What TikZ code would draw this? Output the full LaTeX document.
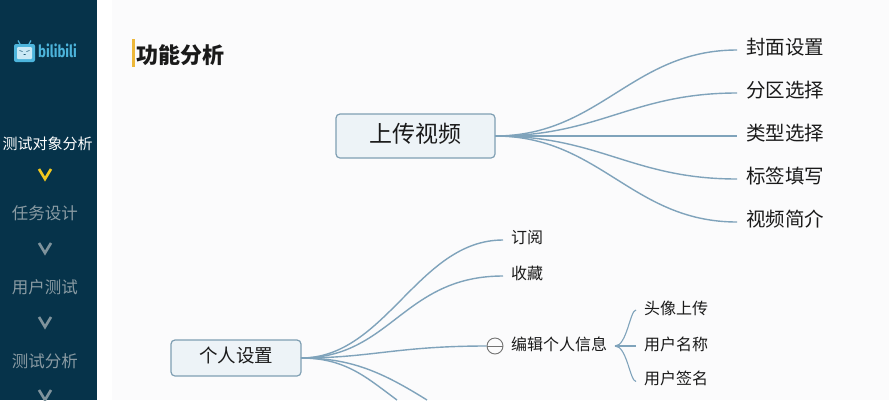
\documentclass[tikz,border=0pt]{standalone}
\usepackage{fontspec}
\setmainfont{Noto Sans CJK SC}
\newfontfamily\logofont{Fira Sans}
\definecolor{pagebg}{HTML}{FBFBFC}
\definecolor{sidebg}{HTML}{06334A}
\definecolor{linkc}{HTML}{7FA3BB}
\definecolor{boxfill}{HTML}{EDF3F7}
\definecolor{boxline}{HTML}{7F9FB3}
\definecolor{accent}{HTML}{EDB83A}
\definecolor{chevy}{HTML}{F2C81E}
\definecolor{chevg}{HTML}{7F939C}
\definecolor{sidegrey}{HTML}{8A9BA3}
\definecolor{logoc}{HTML}{4DB5DC}
\definecolor{inkc}{HTML}{1A1A1A}
\tikzset{
  x=1pt,y=-1pt,
  rootbox/.style={draw=boxline,line width=1.2pt,fill=boxfill,rounded corners=4pt,text=inkc,inner sep=0pt,outer sep=0pt,anchor=north west},
  leafa/.style={anchor=west,inner sep=0pt,text=inkc,font=\fontsize{19.5}{20}\selectfont},
  leafb/.style={anchor=west,inner sep=0pt,text=inkc,font=\fontsize{16}{16}\selectfont},
  sideitem/.style={inner sep=0pt,text=sidegrey,font=\fontsize{16.5}{17}\selectfont},
  link/.style={draw=linkc,line width=1.4pt},
  sublink/.style={draw=linkc,line width=1.1pt},
  chev/.style={line width=2.6pt,miter limit=10},
}
\begin{document}
\begin{tikzpicture}
\useasboundingbox (0,0) rectangle (889,400);
\clip (0,0) rectangle (889,400);
\fill[pagebg] (0,0) rectangle (889,400);
\fill[white] (97,0) rectangle (112,400);
\fill[sidebg] (0,0) rectangle (97,400);

% logo
\fill[logoc,rounded corners=2pt] (14,44) rectangle (35,62);
\fill[white!70!logoc,rounded corners=1pt] (17,47) rectangle (32,59);
\draw[logoc,line width=1.2pt] (20,44) -- (18,40.5) (29,44) -- (31,40.5);
\draw[sidebg!70!logoc,line width=.6pt] (19.5,50.5) -- (22.5,51.5) (29.5,50.5) -- (26.5,51.5) (23.5,54.5) -- (25.5,54.5);
\node[inner sep=0pt,text=logoc] (logo) at (57.5,51) {\scalebox{.83}[1.05]{\logofont\bfseries\fontsize{16}{16}\selectfont bilibili}};

% sidebar
\node[sideitem,text=white,font=\fontsize{15}{15}\selectfont] (s1) at (47.5,144) {测试对象分析};
\node[sideitem] (s2) at (45,213) {任务设计};
\node[sideitem] (s3) at (45,287) {用户测试};
\node[sideitem] (s4) at (45,361) {测试分析};
\draw[chev,chevy] (39,169) -- (45,179) -- (51,169);
\draw[chev,chevg] (39,243) -- (45,253) -- (51,243);
\draw[chev,chevg] (39,317) -- (45,327) -- (51,317);
\draw[chev,chevg] (39,390) -- (45,400) -- (51,390);

% heading
\fill[accent] (132,39) rectangle (135,67);
\node[anchor=west,inner sep=0pt,text=inkc,font=\fontsize{22}{22}\selectfont\bfseries] (title) at (136,55) {功能分析};

% roots
\node[rootbox,minimum width=159pt,minimum height=44pt,font=\fontsize{23}{23}\selectfont] (up) at (336,114) {\raisebox{-6.7pt}[0pt][0pt]{上传视频}};
\node[rootbox,minimum width=130pt,minimum height=36pt,font=\fontsize{18.5}{19}\selectfont] (me) at (171,340) {\raisebox{-4.5pt}[0pt][0pt]{个人设置}};

% upper leaves
\node[leafa] (a1) at (746,47) {封面设置};
\node[leafa] (a2) at (746,90) {分区选择};
\node[leafa] (a3) at (746,133) {类型选择};
\node[leafa] (a4) at (746,176) {标签填写};
\node[leafa] (a5) at (746,219) {视频简介};
\foreach \n in {a1,a2,a3,a4,a5}
  \draw[link] (up.east) .. controls +(105,0) and +(-105,0) .. ([xshift=-9pt,yshift=-3pt]\n.west);

% lower leaves
\node[leafb] (b1) at (511,238) {订阅};
\node[leafb] (b2) at (511,273.5) {收藏};
\node[draw=black!55,circle,line width=.9pt,minimum size=16pt,inner sep=0pt] (fold) at (495,346) {};
\draw[black!55,line width=1pt] (fold.west) -- (fold.east);
\node[leafb] (edit) at (511,344) {编辑个人信息};
\coordinate (off1) at (397,400);
\coordinate (off2) at (427,400);
\draw[link] (me.east) .. controls +(85,0) and +(-85,0) .. ([xshift=-8pt,yshift=-2pt]b1.west);
\draw[link] (me.east) .. controls +(90,0) and +(-100,0) .. ([xshift=-8pt,yshift=-2.5pt]b2.west);
\draw[link] (me.east) .. controls +(70,0) and +(-90,0) .. (fold.west);
\draw[link] (me.east) .. controls +(45,0) and +(-30,-22) .. (off1);
\draw[link] (me.east) .. controls +(50,0) and +(-45,-28) .. (off2);

% third level
\coordinate (hub) at (615,346);
\node[leafb] (c1) at (644,308.5) {头像上传};
\node[leafb] (c2) at (644,344) {用户名称};
\node[leafb] (c3) at (644,378) {用户签名};
\draw[sublink] (hub) .. controls +(12,0) and +(-6,0) .. ([xshift=-8pt,yshift=-1.5pt]c1.west);
\draw[sublink] (hub) -- ([xshift=-8pt,yshift=-2pt]c2.west);
\draw[sublink] (hub) .. controls +(12,0) and +(-6,0) .. ([xshift=-8pt,yshift=-3.5pt]c3.west);
\end{tikzpicture}
\end{document}
